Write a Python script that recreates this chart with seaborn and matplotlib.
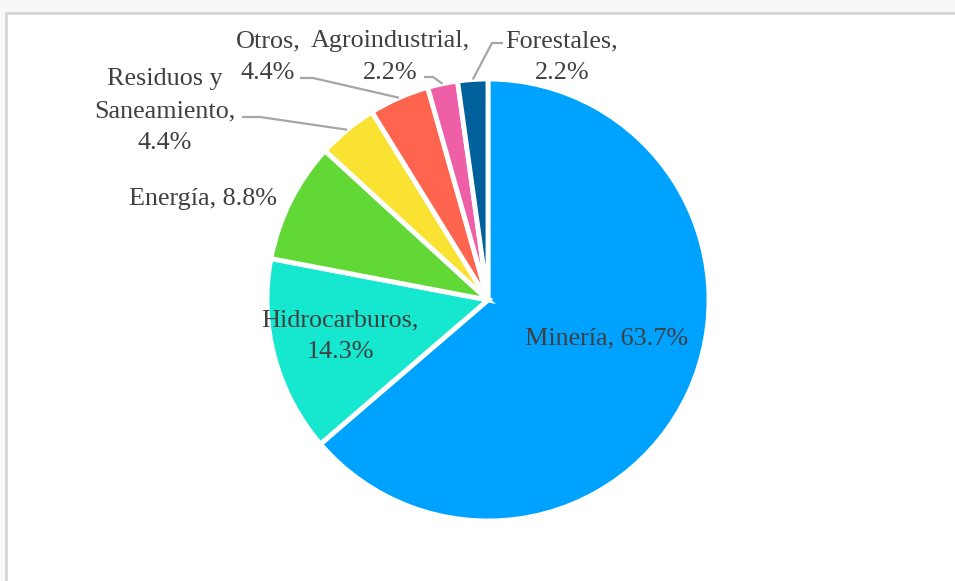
import matplotlib
matplotlib.use("Agg")
import matplotlib.pyplot as plt
from matplotlib.patches import Rectangle
import numpy as np
import seaborn as sns

sectors = ["Minería", "Hidrocarburos", "Energía", "Residuos y\nSaneamiento",
           "Otros", "Agroindustrial", "Forestales"]
shares = [63.7, 14.3, 8.8, 4.4, 4.4, 2.2, 2.2]
colors = ["#00A2FF", "#16E7CF", "#61D836", "#FAE232", "#FF644E", "#EF5FA7", "#00609C"]

sns.set_theme(style="white")
plt.rcParams["font.family"] = ["Liberation Serif", "DejaVu Serif"]

W, H = 955, 581
CX, CY, R = 488, 300, 221

fig = plt.figure(figsize=(W / 100, H / 100), dpi=100, facecolor="#f8f8f8")
fig.patches.append(Rectangle((6 / W, -0.02), 1, 1.02 - 13 / H, transform=fig.transFigure,
                             facecolor="white", edgecolor="#d4d4d4", linewidth=2, zorder=-10))
ax = fig.add_axes([0, 0, 1, 1])
ax.set_facecolor("none")
ax.set_zorder(5)

wedges, _ = ax.pie(shares, colors=sns.color_palette(colors), startangle=90,
                   counterclock=False, radius=1,
                   wedgeprops=dict(edgecolor="white", linewidth=3.5))
ax.set_xlim(-CX / R, (W - CX) / R)
ax.set_ylim((CY - H) / R, CY / R)
ax.set_aspect("equal")
ax.axis("off")


def px(x, y):
    return (x - CX) / R, (CY - y) / R


def mid(w, r=1.0):
    a = np.deg2rad((w.theta1 + w.theta2) / 2)
    return r * np.cos(a), r * np.sin(a)


txt = dict(color="#404040", fontsize=18.8, ha="center", va="center", linespacing=1.56)

labels = [f"{s}, {v:.1f}%" for s, v in zip(sectors, shares)]
labels[1] = "Hidrocarburos,\n14.3%"
labels[3] = "Residuos y\nSaneamiento,\n4.4%"
labels[4] = "Otros,\n4.4%"
labels[5] = "Agroindustrial,\n2.2%"
labels[6] = "Forestales,\n2.2%"

spots = [(607, 338), (340, 336), (203, 199), (165, 111), (268, 57), (390, 57), (562, 57)]
for lab, (x, y) in zip(labels, spots):
    ax.text(*px(x, y), lab, **txt)

# leader lines: (start, elbow) in pixels, end at wedge middle
leaders = {3: [(242, 117), (260, 117)],
           4: [(300, 78), (313, 78)],
           5: [(424, 77), (433, 77)],
           6: [(503, 43), (492, 43)]}
for i, pts in leaders.items():
    p = [px(*q) for q in pts] + [mid(wedges[i])]
    ax.plot([q[0] for q in p], [q[1] for q in p], color="#a6a6a6", lw=1.6,
            solid_capstyle="butt")

fig.savefig("out.png", dpi=100, facecolor=fig.get_facecolor())
